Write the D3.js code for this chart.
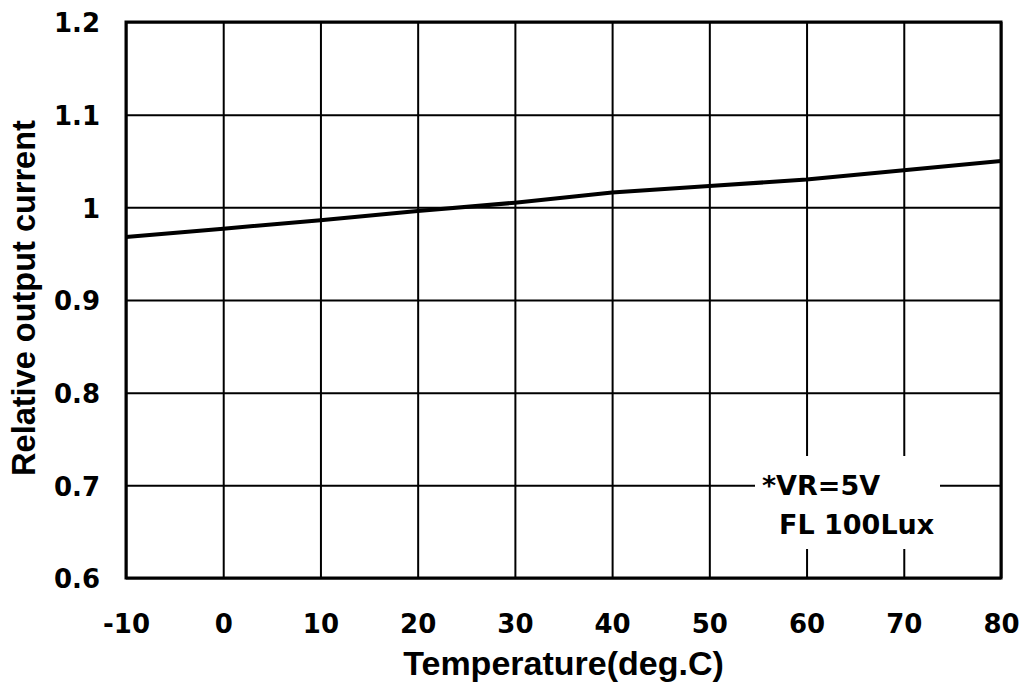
<!DOCTYPE html>
<html>
<head>
<meta charset="utf-8">
<script src="https://cdn.jsdelivr.net/npm/d3@7"></script>
<style>
  body { margin: 0; background: #fff; }
  .tick text { font-family: "DejaVu Sans", sans-serif; font-weight: bold; font-size: 26px; fill: #000; }
</style>
</head>
<body>
<div id="chart"></div>
<script>
// temperature (deg.C) and relative output current
let temps = [-10, 0, 10, 20, 30, 40, 50, 60, 70, 80];
let current = [0.968, 0.977, 0.986, 0.996, 1.005, 1.016, 1.023, 1.030, 1.040, 1.050];
let xTicks = [-10, 0, 10, 20, 30, 40, 50, 60, 70, 80];
let yTicks = [0.6, 0.7, 0.8, 0.9, 1.0, 1.1, 1.2];
let noteLines = ["*VR=5V", "FL 100Lux"];

let svgWidth = 1029;
let svgHeight = 698;
let plotLeft = 126, plotRight = 1001, plotTop = 22, plotBottom = 578;

let svg = d3.select("#chart")
  .append("svg")
  .attr("width", svgWidth)
  .attr("height", svgHeight)

let xScale = d3.scaleLinear().domain([-10, 80]).range([plotLeft, plotRight])
let yScale = d3.scaleLinear().domain([0.6, 1.2]).range([plotBottom, plotTop])

// grid via axes with full-length ticks
let xAxis = d3.axisBottom(xScale)
  .tickValues(xTicks)
  .tickSize(-(plotBottom - plotTop))
  .tickPadding(37)
  .tickFormat(d => String(d))

svg.append("g")
  .attr("transform", `translate(0,${plotBottom})`)
  .call(xAxis)
  .call(g => g.select(".domain").remove())
  .call(g => g.selectAll(".tick line").attr("stroke", "#000").attr("stroke-width", 2))

let yAxis = d3.axisLeft(yScale)
  .tickValues(yTicks)
  .tickSize(-(plotRight - plotLeft))
  .tickPadding(26)
  .tickFormat(d => d === 1 ? "1" : d3.format(".1f")(d))

svg.append("g")
  .attr("transform", `translate(${plotLeft},0)`)
  .call(yAxis)
  .call(g => g.select(".domain").remove())
  .call(g => g.selectAll(".tick line").attr("stroke", "#000").attr("stroke-width", 2))
  .call(g => g.selectAll(".tick text").attr("dy", "0.38em"))

// frame
svg.append("rect")
  .attr("x", plotLeft)
  .attr("y", plotTop)
  .attr("width", plotRight - plotLeft)
  .attr("height", plotBottom - plotTop)
  .attr("fill", "none")
  .attr("stroke", "#000")
  .attr("stroke-width", 3)

// curve
let line = d3.line()
  .x((d, i) => xScale(temps[i]))
  .y(d => yScale(d))

svg.append("path")
  .datum(current)
  .attr("d", line)
  .attr("fill", "none")
  .attr("stroke", "#000")
  .attr("stroke-width", 4)

// condition note, blanked area behind it
svg.append("rect")
  .attr("x", 755)
  .attr("y", 456)
  .attr("width", 185)
  .attr("height", 93)
  .attr("fill", "#fff")

svg.selectAll(".note")
  .data(noteLines)
  .enter()
  .append("text")
  .attr("class", "note")
  .attr("x", (d, i) => i === 0 ? 762 : 779)
  .attr("y", (d, i) => 495 + i * 39)
  .attr("font-family", "DejaVu Sans, sans-serif")
  .attr("font-weight", "bold")
  .attr("font-size", 27)
  .text(d => d)

// axis titles
svg.append("text")
  .attr("x", (plotLeft + plotRight) / 2)
  .attr("y", 675)
  .attr("text-anchor", "middle")
  .attr("font-family", "Liberation Sans, Arial, sans-serif")
  .attr("font-weight", "bold")
  .attr("font-size", 34)
  .text("Temperature(deg.C)")

svg.append("text")
  .attr("transform", `translate(35,298) rotate(-90)`)
  .attr("text-anchor", "middle")
  .attr("font-family", "Liberation Sans, Arial, sans-serif")
  .attr("font-weight", "bold")
  .attr("font-size", 32.5)
  .text("Relative output current")
</script>
</body>
</html>
